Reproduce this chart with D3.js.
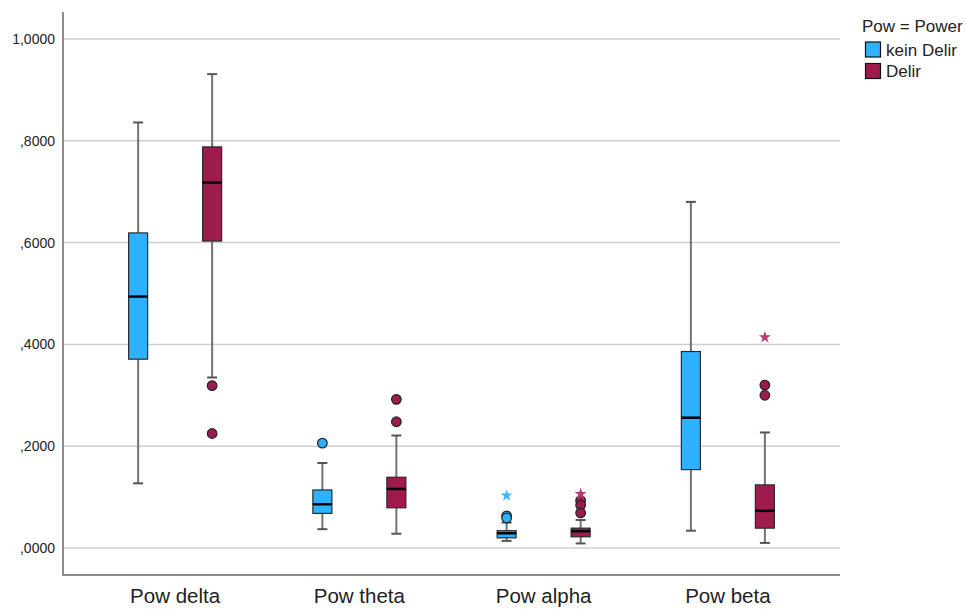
<!DOCTYPE html>
<html>
<head>
<meta charset="utf-8">
<script src="https://cdn.jsdelivr.net/npm/d3@7"></script>
<style>
  body { margin: 0; background: #fff; }
  svg { display: block; font-family: "Liberation Sans", Arial, sans-serif; }
</style>
</head>
<body>
<svg id="chart" width="966" height="612"></svg>
<script>
// Box plot: EEG power bands, kein Delir vs Delir

const categories = ["Pow delta", "Pow theta", "Pow alpha", "Pow beta"];
const groups = ["kein Delir", "Delir"];
const groupColors = ["#2eb1ff", "#9e1a4f"];
const starColors = ["#3db8ff", "#b83a72"];
const yTicks = [0, 0.2, 0.4, 0.6, 0.8, 1.0];

// five-number summaries per category: [kein Delir, Delir] -> [low whisker, q1, median, q3, high whisker]
const deltaBoxes = [[0.127, 0.371, 0.494, 0.619, 0.836], [0.335, 0.603, 0.718, 0.788, 0.931]];
const thetaBoxes = [[0.037, 0.068, 0.086, 0.114, 0.167], [0.028, 0.079, 0.116, 0.139, 0.221]];
const alphaBoxes = [[0.014, 0.020, 0.029, 0.034, 0.050], [0.009, 0.022, 0.033, 0.039, 0.055]];
const betaBoxes  = [[0.034, 0.154, 0.256, 0.386, 0.680], [0.010, 0.039, 0.073, 0.124, 0.227]];

// outliers (circles) and extremes (stars)
const deltaOutliers = [[], [0.319, 0.225]];
const thetaOutliers = [[0.206], [0.292, 0.248]];
const alphaOutliers = [[0.063, 0.059], [0.093, 0.084, 0.069]];
const betaOutliers  = [[], [0.320, 0.300]];
const deltaExtremes = [[], []];
const thetaExtremes = [[], []];
const alphaExtremes = [[0.103], [0.106]];
const betaExtremes  = [[], [0.414]];

const boxes = [deltaBoxes, thetaBoxes, alphaBoxes, betaBoxes];
const outliers = [deltaOutliers, thetaOutliers, alphaOutliers, betaOutliers];
const extremes = [deltaExtremes, thetaExtremes, alphaExtremes, betaExtremes];

const svg = d3.select("#chart");
const plot = { left: 63, right: 840, top: 12, bottom: 575 };

const x = d3.scaleBand().domain(categories).range([83, 820]);
const xg = d3.scalePoint().domain(groups)
  .range([x.bandwidth() / 2 - 37, x.bandwidth() / 2 + 37]);
const y = d3.scaleLinear().domain([0, 1]).range([548, 39]);
const boxW = 19;

// gridlines
svg.append("g").selectAll("line").data(yTicks).enter().append("line")
  .attr("x1", plot.left).attr("x2", plot.right)
  .attr("y1", (d) => y(d)).attr("y2", (d) => y(d))
  .attr("stroke", "#cfcfcf").attr("stroke-width", 1.5);

// y axis
const yAxis = svg.append("g").attr("transform", `translate(${plot.left},0)`)
  .call(d3.axisLeft(y).tickValues(yTicks).tickSize(0).tickPadding(8)
    .tickFormat((d) => d3.format(".4f")(d).replace(/^0/, "").replace(".", ",")));
yAxis.select(".domain").remove();
yAxis.selectAll("text").attr("font-size", 14).attr("fill", "#222")
  .attr("font-family", "Liberation Sans, Arial, sans-serif");
svg.append("line").attr("x1", plot.left).attr("x2", plot.left)
  .attr("y1", plot.top).attr("y2", plot.bottom).attr("stroke", "#8c8c8c").attr("stroke-width", 2);

// x axis
const xAxis = svg.append("g").attr("transform", `translate(0,${plot.bottom})`)
  .call(d3.axisBottom(x).tickSize(0).tickPadding(13));
xAxis.select(".domain").remove();
xAxis.selectAll("text").attr("font-size", 20.5).attr("fill", "#222")
  .attr("font-family", "Liberation Sans, Arial, sans-serif");
svg.append("line").attr("x1", plot.left - 1).attr("x2", plot.right)
  .attr("y1", plot.bottom).attr("y2", plot.bottom).attr("stroke", "#8c8c8c").attr("stroke-width", 2);

// boxes
const star = d3.symbol().type(d3.symbolStar).size(45);
categories.forEach((cat, ci) => {
  groups.forEach((grp, gi) => {
    const [lo, q1, med, q3, hi] = boxes[ci][gi];
    const cx = x(cat) + xg(grp);
    const g = svg.append("g");
    g.append("line").attr("x1", cx).attr("x2", cx).attr("y1", y(hi)).attr("y2", y(lo))
      .attr("stroke", "#737373").attr("stroke-width", 2);
    [lo, hi].forEach((v) => g.append("line")
      .attr("x1", cx - 5).attr("x2", cx + 5).attr("y1", y(v)).attr("y2", y(v))
      .attr("stroke", "#555").attr("stroke-width", 2));
    g.append("rect").attr("x", cx - boxW / 2).attr("y", y(q3))
      .attr("width", boxW).attr("height", y(q1) - y(q3))
      .attr("fill", groupColors[gi]).attr("stroke", "#2a2a2a").attr("stroke-width", 1.2);
    g.append("line").attr("x1", cx - boxW / 2).attr("x2", cx + boxW / 2)
      .attr("y1", y(med)).attr("y2", y(med)).attr("stroke", "#000").attr("stroke-width", 2.5);
    outliers[ci][gi].forEach((v) => g.append("circle")
      .attr("cx", cx).attr("cy", y(v)).attr("r", 4.8)
      .attr("fill", groupColors[gi]).attr("stroke", "#222").attr("stroke-width", 1.2));
    extremes[ci][gi].forEach((v) => g.append("path")
      .attr("d", star).attr("transform", `translate(${cx},${y(v)})`)
      .attr("fill", starColors[gi]).attr("stroke", "none"));
  });
});

// legend
const legend = svg.append("g").attr("font-family", "Liberation Sans, Arial, sans-serif");
legend.append("text").attr("x", 862).attr("y", 32).attr("font-size", 17).attr("fill", "#222")
  .text("Pow = Power");
groups.forEach((grp, gi) => {
  legend.append("rect").attr("x", 865.5).attr("y", 42 + gi * 21.5).attr("width", 15).attr("height", 15)
    .attr("fill", groupColors[gi]).attr("stroke", "#111").attr("stroke-width", 1.2);
  legend.append("text").attr("x", 886).attr("y", 55.5 + gi * 21.5).attr("font-size", 17).attr("fill", "#222")
    .text(grp);
});
</script>
</body>
</html>
